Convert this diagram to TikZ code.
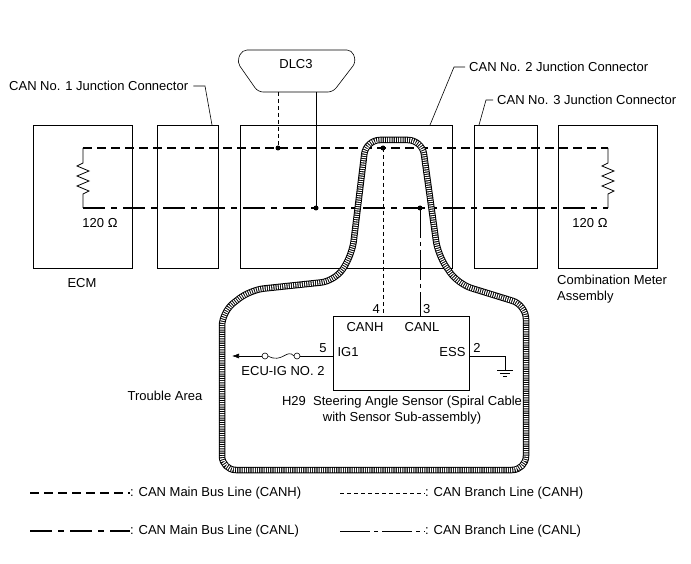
\documentclass[tikz,border=0pt]{standalone}
\usepackage{fontspec}
\setmainfont{Liberation Sans}
\usetikzlibrary{arrows.meta}
\begin{document}
\begin{tikzpicture}[x=1pt,y=-1pt,font=\fontsize{13}{15.5}\selectfont,
 box/.style={draw,line width=0.6pt},
 hbus/.style={line width=2.2pt,dash pattern=on 9pt off 5pt},
 lbus/.style={line width=2.2pt,dash pattern=on 22pt off 6pt on 6pt off 6pt},
 hbr/.style={line width=0.6pt,dash pattern=on 4pt off 3pt},
 lbr/.style={line width=0.6pt,dash pattern=on 30pt off 4pt on 4pt off 4pt},
 dot/.style={circle,fill,inner sep=0pt,minimum size=5pt},
 lead/.style={line width=0.6pt}]
\useasboundingbox (0,0) rectangle (691,564);
% boxes
\node[box,minimum width=99pt,minimum height=143pt,anchor=north west] (ecm) at (33,125) {};
\node[box,minimum width=61pt,minimum height=143pt,anchor=north west] (j1) at (157,125) {};
\node[box,minimum width=212pt,minimum height=143pt,anchor=north west] (j2) at (240,125) {};
\node[box,minimum width=63pt,minimum height=143pt,anchor=north west] (j3) at (474,125) {};
\node[box,minimum width=99pt,minimum height=143pt,anchor=north west] (met) at (558,125) {};
% labels
\node[anchor=west,inner sep=1pt] (l1) at (8,86) {CAN No. 1 Junction Connector};
\node[anchor=west,inner sep=1pt] (l2) at (468,67) {CAN No. 2 Junction Connector};
\node[anchor=west,inner sep=1pt] (l3) at (496,100) {CAN No. 3 Junction Connector};
\draw[lead] (l1.east) ++(4,0) -- (205,86) -- (212,125);
\draw[lead] (l2.west) ++(-3,0) -- (454,67) -- (430,125);
\draw[lead] (l3.west) ++(-3,0) -- (486,100) -- (479,125);
\node (ecml) at (82,283) {ECM};
\node[anchor=north west,align=left,inner sep=1pt] (metl) at (556,274) {Combination Meter\\Assembly};
\node (r1l) at (100,223) {120 Ω};
\node (r2l) at (590,223) {120 Ω};
% DLC3
\draw[line width=0.6pt,rounded corners=5pt] (258,92) -- (237,62) -- (242,50) -- (352,50) -- (356,62) -- (333,92) -- cycle;
\node (dlc) at (296,64) {DLC3};
% coordinates
\coordinate (h1) at (278,148); \coordinate (h2) at (383,148);
\coordinate (c1) at (316,208); \coordinate (c2) at (420,208);
% resistors
\draw[line width=0.8pt] (83,148) -- (83,163) -- (77,166) -- (89,171) -- (77,176) -- (89,181) -- (77,186) -- (89,191) -- (83,194) -- (83,208);
\draw[line width=0.8pt] (608,148) -- (608,163) -- (602,166) -- (614,171) -- (602,176) -- (614,181) -- (602,186) -- (614,191) -- (608,194) -- (608,208);
% buses
\draw[hbus] (83,148) -- (608,148);
\draw[lbus] (83,208) -- (608,208);
% DLC lines
\draw[hbr] (278,92) -- (h1);
\draw[line width=0.6pt] (316,92) -- (c1);
\node[dot] at (h1) {}; \node[dot] at (h2) {}; \node[dot] at (c1) {}; \node[dot] at (c2) {};
% sensor
\node[box,minimum width=136pt,minimum height=74pt,anchor=north west] (sen) at (333,316) {};
\draw[hbr] (h2) -- (383,316);
\draw[lbr] (c2) -- (420,316);
\node[anchor=south east,inner sep=1pt] at (381,315) {4};
\node[anchor=south west,inner sep=1pt] at (422,315) {3};
\node (canh) at (365,327) {CANH};
\node (canl) at (422,327) {CANL};
\node[anchor=west] (ig1) at (334,352) {IG1};
\node[anchor=east] (ess) at (469,352) {ESS};
\node[anchor=south,inner sep=1pt] at (323,354) {5};
\node[anchor=south,inner sep=1pt] at (477,354) {2};
\draw[line width=0.6pt] (469,356) -- (505,356) -- (505,370);
\draw[line width=0.6pt] (497,370) -- (513,370) (500,373) -- (510,373) (503,376) -- (507,376);
% fuse
\draw[line width=0.6pt] (333,356) -- (300,356);
\draw[line width=0.6pt] (297,356) circle (3pt) (265,356) circle (3pt);
\draw[line width=0.6pt] (294,356) .. controls (287,348) and (282,364) .. (268,356);
\draw[line width=0.6pt,-{Latex[length=7pt,width=5pt]}] (262,356) -- (232,356);
\node (ecuig) at (283,371) {ECU-IG NO. 2};
\node[align=center] (h29) at (402,410) {H29\ \ Steering Angle Sensor (Spiral Cable\\with Sensor Sub-assembly)};
\node (ta) at (165,396) {Trouble Area};
% trouble area
\def\tapath{[rounded corners=14pt] (370,470) -- (222,470) -- (222,312) -- (250,290) -- (335,281) -- (352,255) -- (366,140) -- (422,140) -- (438,255) -- (458,284) -- (526,305) -- (526,470) -- cycle}
\draw[line width=6.5pt] \tapath;
\draw[white,line width=4.5pt,dash pattern=on 1.1pt off 1.1pt] \tapath;
% legend
\draw[hbus] (30,493) -- (130,493);
\node[anchor=west,inner sep=0pt] (lg1) at (130,493) {: CAN Main Bus Line (CANH)};
\draw[hbr] (340,493) -- (425,493);
\node[anchor=west,inner sep=0pt] (lg2) at (425,493) {: CAN Branch Line (CANH)};
\draw[lbus] (30,531) -- (130,531);
\node[anchor=west,inner sep=0pt] (lg3) at (130,531) {: CAN Main Bus Line (CANL)};
\draw[lbr] (340,531) -- (425,531);
\node[anchor=west,inner sep=0pt] (lg4) at (425,531) {: CAN Branch Line (CANL)};
\end{tikzpicture}
\end{document}
